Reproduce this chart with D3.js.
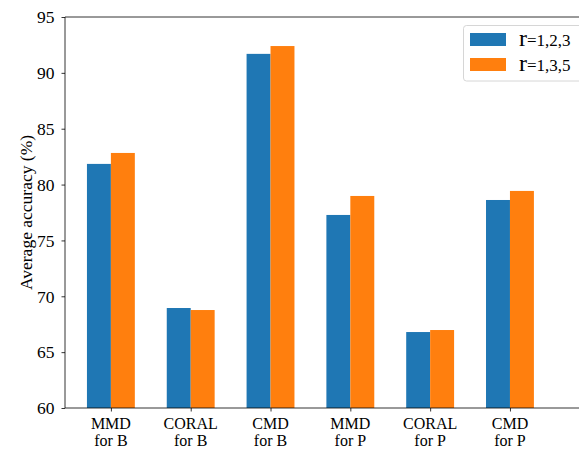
<!DOCTYPE html>
<html>
<head>
<meta charset="utf-8">
<script src="https://cdn.jsdelivr.net/npm/d3@7"></script>
<style>
  html, body { margin: 0; padding: 0; background: #fff; }
  svg { display: block; }
  text { font-family: "Liberation Serif", "Times New Roman", serif; fill: #000; }
</style>
</head>
<body>
<svg id="chart" width="579" height="450"></svg>
<script>
const categories = [["MMD", "for B"], ["CORAL", "for B"], ["CMD", "for B"], ["MMD", "for P"], ["CORAL", "for P"], ["CMD", "for P"]];
const seriesNames = ["1,2,3", "1,3,5"];
const seriesColors = ["#1f77b4", "#ff7f0e"];
const valuesR123 = [81.85, 68.95, 91.7, 77.28, 66.8, 78.62];
const valuesR135 = [82.83, 68.77, 92.4, 78.98, 66.98, 79.43];
const yTicks = [60, 65, 70, 75, 80, 85, 90, 95];
const series = [valuesR123, valuesR135];

const svg = d3.select("#chart");
const mLeft = 65, mRight = 579, mTop = 17, mBottom = 408;
const FS = "17.5px";

const x = d3.scaleLinear().domain([-0.575, 5.865]).range([mLeft, mRight]);
const y = d3.scaleLinear().domain([60, 95]).range([mBottom, mTop]);
const barW = 0.3;

// bars
series.forEach((vals, s) => {
  svg.append("g").selectAll("rect").data(vals).join("rect")
    .attr("x", (d, i) => x(i + (s === 0 ? -barW : 0)))
    .attr("width", (d, i) => x(i + barW) - x(i))
    .attr("y", d => y(d))
    .attr("height", d => y(60) - y(d))
    .attr("fill", seriesColors[s]);
});

// axes
const yAxis = d3.axisLeft(y).tickValues(yTicks).tickSize(3.5).tickPadding(7).tickFormat(d3.format("d"));
const gy = svg.append("g").attr("transform", `translate(${mLeft},0)`).call(yAxis);
gy.select(".domain").remove();
gy.selectAll(".tick line").attr("stroke", "#000").attr("stroke-width", 0.8);
gy.selectAll(".tick text").style("font-size", FS).attr("font-family", "Liberation Serif").attr("dy", "0.33em");

const xAxis = d3.axisBottom(x).tickValues(d3.range(categories.length)).tickSize(3.5).tickFormat(() => "");
const gx = svg.append("g").attr("transform", `translate(0,${mBottom})`).call(xAxis);
gx.select(".domain").remove();
gx.selectAll(".tick line").attr("stroke", "#000").attr("stroke-width", 0.8);

// x labels (two lines, separate text elements)
[0, 1].forEach(line => {
  svg.append("g").selectAll("text").data(categories).join("text")
    .attr("x", (d, i) => x(i))
    .attr("y", 428.5 + line * 17.8)
    .attr("text-anchor", "middle")
    .style("font-size", "16px")
    .text(d => d[line]);
});

// spines
const sp = svg.append("g").attr("stroke", "#000").attr("stroke-width", 0.8).attr("fill", "none");
sp.append("line").attr("x1", mLeft).attr("x2", mLeft).attr("y1", mTop).attr("y2", mBottom);
sp.append("line").attr("x1", mLeft).attr("x2", mRight).attr("y1", mTop).attr("y2", mTop);
sp.append("line").attr("x1", mLeft).attr("x2", mRight).attr("y1", mBottom).attr("y2", mBottom);

// y label
svg.append("text")
  .attr("transform", `translate(32,${(mTop + mBottom) / 2}) rotate(-90)`)
  .attr("text-anchor", "middle")
  .style("font-size", FS)
  .text("Average accuracy (%)");

// legend
const lg = svg.append("g");
lg.append("rect").attr("x", 463.5).attr("y", 25.5).attr("width", 120).attr("height", 55.5)
  .attr("rx", 3).attr("fill", "#fff").attr("fill-opacity", 0.8).attr("stroke", "#ccc").attr("stroke-width", 0.8);
seriesNames.forEach((n, i) => {
  const yy = 33 + i * 25;
  lg.append("rect").attr("x", 470).attr("y", yy).attr("width", 36).attr("height", 13).attr("fill", seriesColors[i]);
  const t = lg.append("text").attr("x", 519).attr("y", yy + 13);
  t.append("tspan").style("font-size", "24px").text("r");
  t.append("tspan").style("font-size", "17px").text("=" + n);
});
</script>
</body>
</html>
